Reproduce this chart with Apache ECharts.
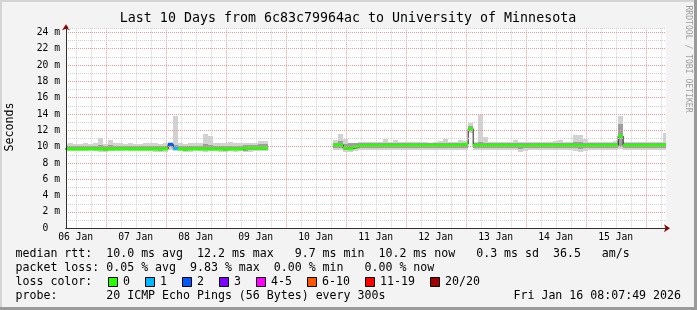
<!DOCTYPE html>
<html><head><meta charset="utf-8">
<script src="https://cdn.jsdelivr.net/npm/echarts@6/dist/echarts.min.js"></script>
<style>html,body{margin:0;padding:0;background:#f3f3f3}#c{width:697px;height:310px}</style>
</head><body><div id="c"></div>
<script>
// ---- data (hours are counted from 06 Jan 00:00) ----
const startHour = 8.13;   // 06 Jan 08:07:49
const endHour = 248.13;   // 16 Jan 08:07:49
const binStartHour = 7;
const binHours = 2;
const dayLabels = ['06 Jan','07 Jan','08 Jan','09 Jan','10 Jan','11 Jan','12 Jan','13 Jan','14 Jan','15 Jan'];
const title = 'Last 10 Days from 6c83c79964ac to University of Minnesota';

// median rtt (ms) per bin
const medianMs = [
 9.72,9.72,9.71,9.72,9.72,9.73,9.72,9.72,9.71,9.72,9.72,9.72,9.73,9.72,9.72,9.71,9.72,9.72,9.72,9.72,9.73,
 10.3,9.8,9.72,9.72,9.72,9.73,9.72,9.72,9.71,9.72,9.72,9.72,9.72,9.72,9.72,9.85,9.85,9.85,9.8,9.8,
 null,null,null,null,null,null,null,null,null,null,null,null,null,
 10.2,10.2,9.85,9.75,9.95,10.1,10.15,10.17,10.17,10.15,10.17,10.18,10.17,10.15,10.17,10.17,10.18,10.17,10.15,10.17,
 10.17,10.16,10.17,10.15,10.17,10.2,10.3,12.2,10.17,10.17,10.15,10.17,10.16,10.17,10.17,10.15,10.17,10.15,10.12,10.15,
 10.17,10.17,10.15,10.17,10.17,10.15,10.17,10.17,10.18,10.15,10.15,10.17,10.15,10.17,10.17,10.16,10.2,11.3,10.17,10.15,
 10.17,10.17,10.15,10.17,10.17,10.17,10.2
];
// smoke: min and max of the pings per bin (ms)
const smokeLo = [
 9.45,9.5,9.45,9.45,9.5,9.45,9.45,9.4,9.3,9.45,9.5,9.45,9.45,9.5,9.45,9.45,9.5,9.45,9.4,9.3,9.35,
 9.6,9.45,9.45,9.3,9.3,9.45,9.45,9.4,9.45,9.45,9.4,9.3,9.45,9.3,9.45,9.3,9.35,9.45,9.45,9.45,
 null,null,null,null,null,null,null,null,null,null,null,null,null,
 9.6,9.55,9.4,9.4,9.45,9.55,9.6,9.6,9.55,9.6,9.55,9.6,9.6,9.55,9.6,9.6,9.55,9.6,9.6,9.55,
 9.6,9.6,9.55,9.6,9.6,9.55,9.6,11.7,9.6,9.55,9.6,9.6,9.55,9.6,9.6,9.55,9.6,9.4,9.45,9.6,
 9.55,9.6,9.6,9.55,9.6,9.6,9.55,9.6,9.5,9.4,9.45,9.6,9.55,9.6,9.6,9.55,9.6,9.7,9.6,9.55,
 9.6,9.6,9.55,9.6,9.6,9.6,9.6
];
const smokeHi = [
 10.35,10.4,10.35,10.3,10.5,10.35,10.4,11.1,10.35,10.8,10.5,10.5,10.35,10.4,10.3,10.35,10.4,10.5,10.5,10.35,10.4,
 10.5,13.7,10.4,10.35,10.5,10.4,10.45,11.6,11.3,10.4,10.5,10.5,10.55,10.4,10.45,10.5,10.5,10.45,10.75,10.75,
 null,null,null,null,null,null,null,null,null,null,null,null,null,
 10.8,11.5,10.9,10.5,10.5,10.6,10.55,10.6,10.55,10.6,10.9,10.6,10.8,10.6,10.55,10.6,10.6,10.55,10.6,10.5,
 10.6,10.7,11.0,10.6,10.6,10.8,10.7,12.9,10.6,13.9,11.2,10.6,10.55,10.6,10.6,10.55,10.8,10.6,10.55,10.6,
 10.6,10.55,10.6,10.6,10.7,10.8,10.6,10.6,11.4,11.4,11.0,10.6,10.55,10.6,10.6,10.6,10.7,13.7,10.6,10.55,
 10.6,10.6,10.55,10.6,10.6,10.6,11.7
];
// smoke core (denser middle pings)
const coreLo = [
 9.55,9.55,9.55,9.55,9.55,9.55,9.55,9.55,9.45,9.55,9.55,9.55,9.55,9.55,9.55,9.55,9.55,9.55,9.55,9.45,9.55,
 10.0,9.55,9.55,9.45,9.55,9.55,9.55,9.55,9.55,9.55,9.55,9.45,9.55,9.55,9.55,9.5,9.55,9.55,9.55,9.55,
 null,null,null,null,null,null,null,null,null,null,null,null,null,
 9.8,9.8,9.6,9.6,9.7,9.8,9.8,9.8,9.8,9.8,9.8,9.8,9.8,9.8,9.8,9.8,9.8,9.8,9.8,9.8,
 9.8,9.8,9.8,9.8,9.8,9.8,9.8,11.9,9.8,9.8,9.8,9.8,9.8,9.8,9.8,9.8,9.8,9.7,9.8,9.8,
 9.8,9.8,9.8,9.8,9.8,9.8,9.8,9.8,9.8,9.7,9.8,9.8,9.8,9.8,9.8,9.8,9.8,10.1,9.8,9.8,
 9.8,9.8,9.8,9.8,9.8,9.8,9.8
];
const coreHi = [
 10.1,10.1,10.1,10.1,10.1,10.1,10.1,10.25,10.1,10.2,10.1,10.1,10.1,10.1,10.1,10.1,10.1,10.1,10.1,10.1,10.1,
 10.45,10.2,10.1,10.1,10.1,10.1,10.1,10.3,10.2,10.1,10.1,10.1,10.1,10.1,10.1,10.15,10.15,10.15,10.3,10.3,
 null,null,null,null,null,null,null,null,null,null,null,null,null,
 10.5,10.7,10.3,10.4,10.4,10.4,10.4,10.4,10.4,10.4,10.4,10.4,10.4,10.4,10.4,10.4,10.4,10.4,10.4,10.4,
 10.4,10.4,10.4,10.4,10.4,10.4,10.4,12.5,10.4,10.6,10.4,10.4,10.4,10.4,10.4,10.4,10.4,10.4,10.4,10.4,
 10.4,10.4,10.4,10.4,10.4,10.4,10.4,10.4,10.6,10.6,10.4,10.4,10.4,10.4,10.4,10.4,10.4,12.8,10.4,10.4,
 10.4,10.4,10.4,10.4,10.4,10.4,10.5
];
// lost pings (of 20) per bin
const lostPings = [
 0,0,0,0,0,0,0,0,0,0,0,0,0,0,0,0,0,0,0,0,0,
 2,1,0,0,0,0,0,0,0,0,0,0,0,0,0,0,0,0,0,0,
 null,null,null,null,null,null,null,null,null,null,null,null,null,
 0,0,0,0,0,0,0,0,0,0,0,0,0,0,0,0,0,0,0,0,
 0,0,0,0,0,0,0,0,0,0,0,0,0,0,0,0,0,0,0,0,
 0,0,0,0,0,0,0,0,0,0,0,0,0,0,0,0,0,0,0,0,
 0,0,0,0,0,0,0
];
const lossLabels = ['0','1','2','3','4-5','6-10','11-19','20/20'];
const lossMaxPings = [0,1,2,3,5,10,19,20];
const lossColors = ['#26ff00','#00b8ff','#0059ff','#7e00ff','#ff00ff','#ff5500','#ff0000','#a10000'];

const legendLines = [
 'median rtt:  10.0 ms avg  12.2 ms max   9.7 ms min  10.2 ms now   0.3 ms sd  36.5   am/s',
 'packet loss: 0.05 % avg  9.83 % max  0.00 % min   0.00 % now',
 'loss color:',
 'probe:       20 ICMP Echo Pings (56 Bytes) every 300s'
];
const stampText = 'Fri Jan 16 08:07:49 2026';
const creditText = 'RRDTOOL / TOBI OETIKER';

// ---- build ----
const MONO = '"DejaVu Sans Mono", monospace';
const binHour = medianMs.map((_, i) => binStartHour + binHours * i);
const smokeData = [];
const medData = [];
const lineData = [];
binHour.forEach((h, i) => {
  lineData.push([h, medianMs[i]]);
  if (medianMs[i] == null) return;
  smokeData.push([h, smokeLo[i], smokeHi[i], coreLo[i], coreHi[i]]);
  medData.push([h, medianMs[i], lostPings[i]]);
});
function lossColor(n) {
  for (let j = 0; j < lossMaxPings.length; j++) if (n <= lossMaxPings[j]) return lossColors[j];
  return lossColors[lossColors.length - 1];
}
const gridHours = [];
for (let h = Math.ceil(startHour / 6) * 6; h < endHour; h += 6) gridHours.push(h);
const labelHours = dayLabels.map((_, i) => 12 + 24 * i);

const chart = echarts.init(document.getElementById('c'), null, {renderer: 'canvas', width: 697, height: 310});

const graphics = [
  {type: 'rect', shape: {x: 0, y: 0, width: 697, height: 2}, style: {fill: '#d4d4d4'}, silent: true},
  {type: 'rect', shape: {x: 0, y: 0, width: 2, height: 310}, style: {fill: '#d4d4d4'}, silent: true},
  {type: 'rect', shape: {x: 0, y: 307, width: 697, height: 3}, style: {fill: '#9a9a9a'}, silent: true},
  {type: 'rect', shape: {x: 694, y: 0, width: 3, height: 310}, style: {fill: '#9a9a9a'}, silent: true},
  {type: 'text', x: 348, y: 19, style: {text: title, fontFamily: MONO, fontSize: 13.3, fill: '#000', align: 'center', verticalAlign: 'middle'}},
  {type: 'text', x: 10, y: 127, rotation: Math.PI / 2, style: {text: 'Seconds', fontFamily: MONO, fontSize: 11.6, fill: '#000', align: 'center', verticalAlign: 'middle'}},
  {type: 'text', x: 688, y: 59, rotation: -Math.PI / 2, style: {text: creditText, fontFamily: MONO, fontSize: 8.1, fill: '#9c9c9c', align: 'center', verticalAlign: 'middle'}},
  {type: 'text', x: 681, y: 296, style: {text: stampText, fontFamily: MONO, fontSize: 11.6, fill: '#000', align: 'right', verticalAlign: 'middle'}}
];
legendLines.forEach((t, i) => {
  graphics.push({type: 'text', x: 15.5, y: 254 + 14 * i, style: {text: t, fontFamily: MONO, fontSize: 11.6, fill: '#000', align: 'left', verticalAlign: 'middle'}});
});
let bx = 108;
lossLabels.forEach((lab, i) => {
  graphics.push({type: 'rect', shape: {x: bx + 0.5, y: 277.5, width: 9, height: 9}, style: {fill: lossColors[i], stroke: '#000', lineWidth: 1}});
  graphics.push({type: 'text', x: bx + 15, y: 282, style: {text: lab, fontFamily: MONO, fontSize: 11.6, fill: '#000', align: 'left', verticalAlign: 'middle'}});
  bx = bx + 15 + 7 * lab.length + 15;
});

const option = {
  backgroundColor: '#f3f3f3',
  animation: false,
  grid: {left: 66, top: 28.3, width: 600, height: 200, show: true, backgroundColor: '#ffffff', borderWidth: 0},
  xAxis: [{
    type: 'value', min: startHour, max: endHour, z: 5,
    axisLine: {show: true, lineStyle: {color: '#303030', width: 1}},
    axisTick: {show: false},
    splitLine: {show: false},
    axisLabel: {customValues: labelHours, formatter: v => dayLabels[Math.round((v - 12) / 24)] || '', fontFamily: MONO, fontSize: 9.7, color: '#000', margin: 4}
  }, {
    type: 'value', min: startHour, max: endHour, position: 'bottom', z: 4,
    axisLine: {show: true, symbol: ['none', 'arrow'], symbolSize: [6, 6], symbolOffset: [0, 4], lineStyle: {color: '#8b0000', width: 1}},
    axisTick: {show: false}, axisLabel: {show: false}, splitLine: {show: false}
  }],
  yAxis: [{
    type: 'value', min: 0, max: 24.5, interval: 1, z: 5,
    axisLine: {show: true, lineStyle: {color: '#303030', width: 1}},
    axisTick: {show: false},
    axisLabel: {showMaxLabel: false, formatter: v => (v % 2 !== 0 || v > 24) ? '' : (v === 0 ? '0  ' : v + ' m'), fontFamily: MONO, fontSize: 9.7, color: '#000', margin: 6},
    splitLine: {show: true, lineStyle: {color: ['#e89a9a', '#cfcfcf'], type: [1, 1], width: 1}}
  }, {
    type: 'value', min: 0, max: 24.5, position: 'left', z: 4,
    axisLine: {show: true, symbol: ['none', 'arrow'], symbolSize: [6, 6], symbolOffset: [0, 4], lineStyle: {color: '#8b0000', width: 1}},
    axisTick: {show: false}, axisLabel: {show: false}, splitLine: {show: false}
  }],
  graphic: {elements: graphics},
  series: [
    {
      type: 'custom', name: 'vgrid', silent: true, z: 1, clip: true,
      data: gridHours.map(h => [h]),
      encode: {x: 0},
      renderItem: (params, api) => {
        const cs = params.coordSys;
        const x = Math.round(api.coord([api.value(0), 0])[0]) + 0.5;
        const major = api.value(0) % 24 === 0;
        return {type: 'line', shape: {x1: x, y1: cs.y, x2: x, y2: cs.y + cs.height},
          style: {stroke: major ? '#e89a9a' : '#cfcfcf', lineWidth: 1, lineDash: [1, 1]}};
      }
    },
    {
      type: 'custom', name: 'smoke', silent: true, z: 2, clip: true,
      data: smokeData,
      encode: {x: 0, y: [1, 2, 3, 4]},
      renderItem: (params, api) => {
        const h = api.value(0);
        const a = api.coord([h, api.value(1)]);
        const b = api.coord([h + binHours, api.value(2)]);
        const c = api.coord([h, api.value(3)]);
        const d = api.coord([h + binHours, api.value(4)]);
        const x0 = Math.round(a[0]), x1 = Math.round(b[0]);
        return {type: 'group', children: [
          {type: 'rect', shape: {x: x0, y: Math.round(b[1]), width: x1 - x0, height: Math.round(a[1]) - Math.round(b[1])}, style: {fill: '#d2d2d2'}},
          {type: 'rect', shape: {x: x0, y: Math.round(d[1]), width: x1 - x0, height: Math.round(c[1]) - Math.round(d[1])}, style: {fill: '#9e9e9e'}}
        ]};
      }
    },
    {
      type: 'line', name: 'median', step: 'end', z: 3, silent: true,
      data: lineData, showSymbol: false, connectNulls: false,
      lineStyle: {color: '#202020', width: 1}
    },
    {
      type: 'custom', name: 'medianLoss', silent: true, z: 4, clip: true,
      data: medData,
      encode: {x: 0, y: 1},
      renderItem: (params, api) => {
        const h = api.value(0);
        const a = api.coord([h, api.value(1)]);
        const b = api.coord([h + binHours, api.value(1)]);
        return {type: 'line', shape: {x1: Math.round(a[0]), y1: a[1], x2: Math.round(b[0]), y2: a[1]},
          style: {stroke: lossColor(api.value(2)), lineWidth: 3}};
      }
    }
  ]
};
chart.setOption(option);
</script>
</body></html>
